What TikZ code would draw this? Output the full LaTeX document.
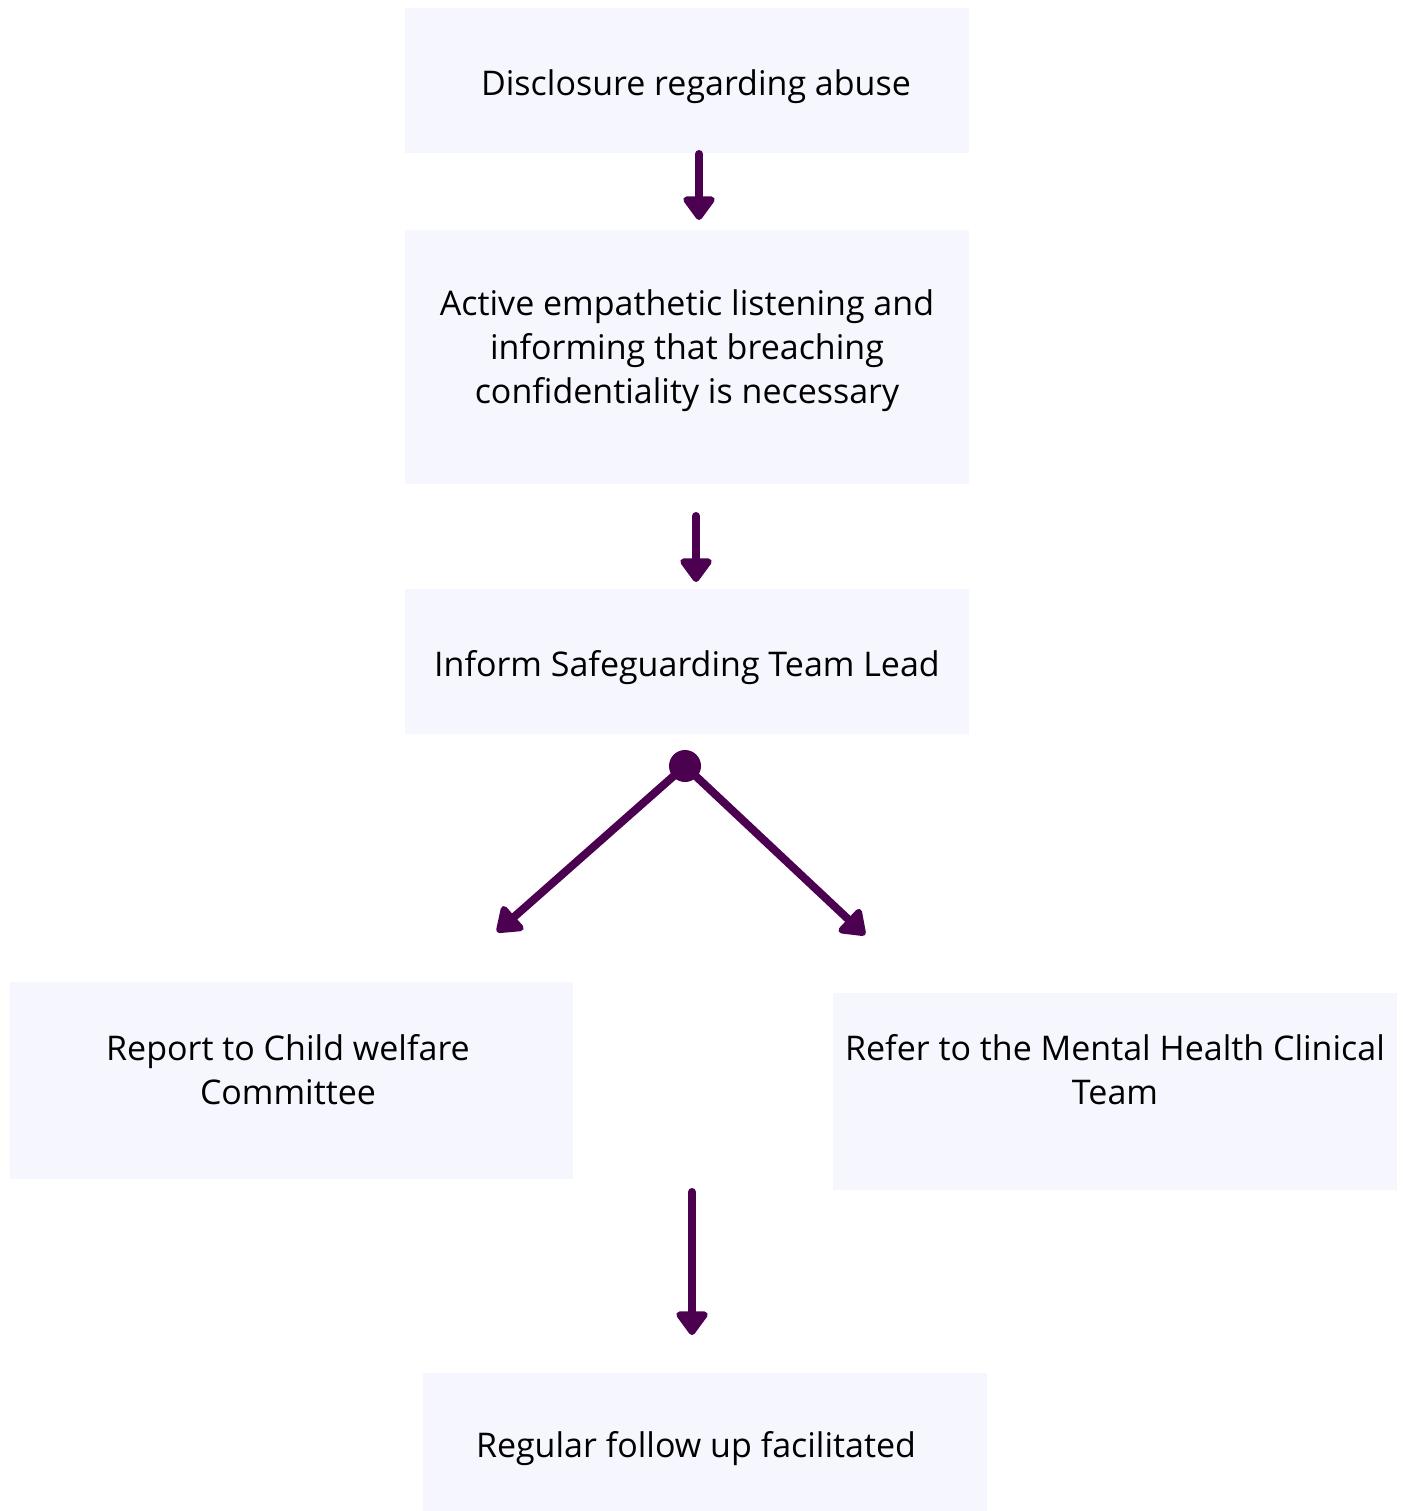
\documentclass[tikz,border=0pt]{standalone}
\usepackage{fontspec}
\setmainfont{Open Sans}
\usetikzlibrary{arrows.meta}
\usetikzlibrary{positioning}
\definecolor{flowpurple}{HTML}{4B0050}
\definecolor{boxfill}{HTML}{F6F6FE}

\begin{document}
\begin{tikzpicture}[line cap=round,line join=round,x=1pt,y=-1pt,
  box/.style={fill=boxfill,draw=none,minimum width=564pt,inner sep=0pt},
  steptext/.style={font=\fontsize{34}{44}\selectfont,align=center,inner sep=0pt},
  flow/.style={draw=flowpurple,fill=flowpurple,line width=8pt,-{Triangle[round,width=36pt,length=26pt]}}]
\useasboundingbox (0,0) rectangle (1403,1511);
% boxes
\node[box,minimum height=145pt] (disclose) at (687,80.5) {};
\node[box,minimum height=254pt] (listen) at (687,357) {};
\node[box,minimum height=145pt] (inform) at (687,661.5) {};
\node[box,minimum width=563pt,minimum height=197pt] (report) at (291.5,1080.5) {};
\node[box,minimum height=197pt] (refer) at (1115,1091.5) {};
\node[box,minimum height=138pt] (follow) at (704.5,1442) {};
% texts
\node[steptext] (disclosetext) at (696,87) {Disclosure regarding abuse};
\node[steptext] (listentext) at (687,351) {Active empathetic listening and\\informing that breaching\\confidentiality is necessary};
\node[steptext] (informtext) at (687,668) {Inform Safeguarding Team Lead};
\node[steptext] (reporttext) at (288,1070) {Report to Child welfare\\Committee};
\node[steptext] (refertext) at (1115,1070) {Refer to the Mental Health Clinical\\Team};
\node[steptext] (followtext) at (696,1449) {Regular follow up facilitated};
% connectors
\node[circle,fill=flowpurple,minimum size=32pt,inner sep=0pt] (split) at (685,766) {};
\coordinate (a1s) at (699,154);
\coordinate (a1e) at (699,220);
\coordinate (a2s) at (696,516);
\coordinate (a2e) at (696,582);
\coordinate (a3e) at (497,932);
\coordinate (a4e) at (865,935);
\coordinate (a5s) at (692,1192);
\coordinate (a5e) at (692,1335);
\draw[flow] (a1s) -- (a1e);
\draw[flow] (a2s) -- (a2e);
\draw[flow] (split.center) -- (a3e);
\draw[flow] (split.center) -- (a4e);
\draw[flow] (a5s) -- (a5e);
\end{tikzpicture}
\end{document}
